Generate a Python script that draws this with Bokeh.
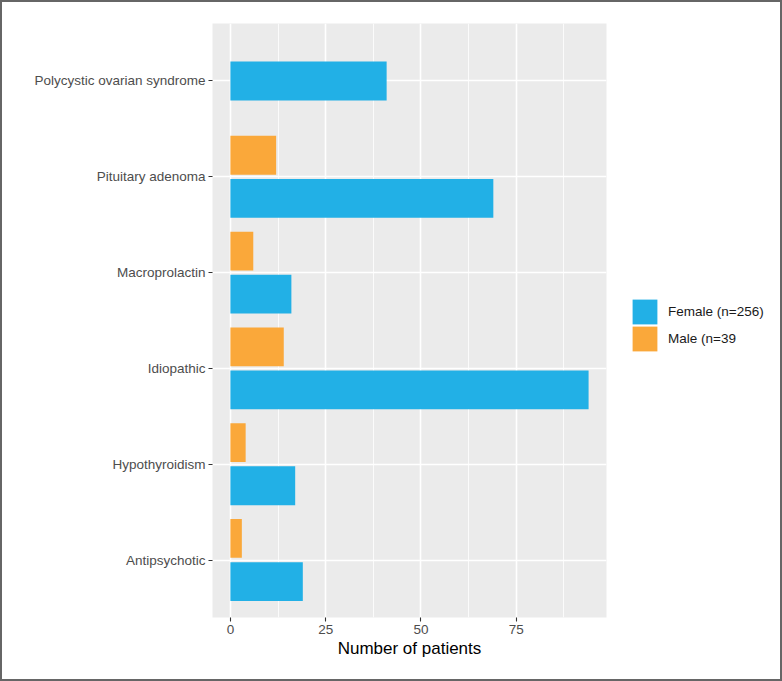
from bokeh.plotting import figure
from bokeh.layouts import row
from bokeh.models import (ColumnDataSource, FactorRange, Range1d, Legend, LegendItem,
                          FixedTicker)
from bokeh.transform import dodge
from bokeh.embed import file_html
from bokeh.resources import INLINE

# ---- data (bottom to top) ----
categories = ["Antipsychotic", "Hypothyroidism", "Idiopathic",
              "Macroprolactin", "Pituitary adenoma", "Polycystic ovarian syndrome"]
female = [19, 17, 94, 16, 69, 41]
male = [3, 4, 14, 6, 12, 0]
female_label = "Female (n=256)"
male_label = "Male (n=39"
x_ticks = [0, 25, 50, 75]

BLUE = "#22B0E6"
ORANGE = "#FAA83A"

# rows with both groups are dodged; single-group rows stay centred
both = [i for i in range(len(categories)) if male[i] > 0]
single = [i for i in range(len(categories)) if male[i] == 0]

src_f_dodged = ColumnDataSource(dict(cat=[categories[i] for i in both],
                                     val=[female[i] for i in both]))
src_f_single = ColumnDataSource(dict(cat=[categories[i] for i in single],
                                     val=[female[i] for i in single]))
src_m = ColumnDataSource(dict(cat=[categories[i] for i in both],
                              val=[male[i] for i in both]))

H = 677
TOP, BOTTOM = 21, 62
p = figure(width=620, height=H, output_backend="svg", toolbar_location=None,
           y_range=FactorRange(factors=categories, range_padding=0.2 / 6,
                               range_padding_units="percent"),
           x_range=Range1d(-4.7, 98.7),
           min_border_left=210, min_border_right=16,
           min_border_top=TOP, min_border_bottom=BOTTOM)

p.background_fill_color = "#EBEBEB"
p.border_fill_color = "white"
p.outline_line_color = None

BAR_H = 0.405
OFF = 0.225
p.hbar(y=dodge("cat", -OFF, range=p.y_range), right="val", left=0, height=BAR_H,
       source=src_f_dodged, fill_color=BLUE, line_color=None)
p.hbar(y="cat", right="val", left=0, height=BAR_H,
       source=src_f_single, fill_color=BLUE, line_color=None)
p.hbar(y=dodge("cat", OFF, range=p.y_range), right="val", left=0, height=BAR_H,
       source=src_m, fill_color=ORANGE, line_color=None)

# grids
p.xgrid.ticker = FixedTicker(ticks=x_ticks,
                             minor_ticks=[t + 12.5 for t in x_ticks])
p.xgrid.grid_line_color = "white"
p.xgrid.grid_line_width = 1.6
p.xgrid.minor_grid_line_color = "white"
p.xgrid.minor_grid_line_width = 0.8
p.ygrid.grid_line_color = "white"
p.ygrid.grid_line_width = 1.6
p.xgrid.level = "underlay"
p.ygrid.level = "underlay"

# axes
for ax in (p.xaxis[0], p.yaxis[0]):
    ax.axis_line_color = None
    ax.major_tick_line_color = "#333333"
    ax.major_tick_line_width = 1.1
    ax.major_tick_out = 4
    ax.major_tick_in = 0
    ax.minor_tick_line_color = None
    ax.major_label_text_color = "#4D4D4D"
    ax.major_label_text_font = "Liberation Sans"
    ax.major_label_text_font_size = "13.5px"
    ax.major_label_standoff = 3

p.xaxis.ticker = FixedTicker(ticks=x_ticks)
p.xaxis.axis_label = "Number of patients"
p.xaxis.axis_label_text_font = "Liberation Sans"
p.xaxis.axis_label_text_font_size = "17px"
p.xaxis.axis_label_text_font_style = "normal"
p.xaxis.axis_label_text_color = "black"
p.xaxis.axis_label_standoff = 2

# ---- legend panel (separate figure to the right of the main panel) ----
lf = figure(width=158, height=H, output_backend="svg", toolbar_location=None,
            x_range=Range1d(-2, -1), y_range=Range1d(-2, -1),
            x_axis_type=None, y_axis_type=None,
            min_border_left=7, min_border_right=0, min_border_top=TOP,
            min_border_bottom=BOTTOM)
lf.outline_line_color = None
lf.grid.visible = False
lf.background_fill_color = "white"
lf.border_fill_color = "white"
# key glyphs reuse the series sources; they fall outside this panel's ranges
lrf = lf.hbar(y="val", right="val", left=0, height=0.5, source=src_f_dodged,
              fill_color=BLUE, line_color=None)
lrm = lf.hbar(y="val", right="val", left=0, height=0.5, source=src_m,
              fill_color=ORANGE, line_color=None)


def make_legend(label, renderer, loc):
    lg = Legend(items=[LegendItem(label=label, renderers=[renderer])],
                location=loc, orientation="vertical")
    lg.glyph_width = 31
    lg.glyph_height = 31
    lg.label_height = 27
    lg.padding = 0
    lg.margin = 0
    lg.label_standoff = 8
    lg.label_text_font = "Liberation Sans"
    lg.label_text_font_size = "13.5px"
    lg.label_text_color = "#1A1A1A"
    lg.background_fill_alpha = 0
    lg.border_line_color = None
    return lg


lf.add_layout(make_legend(female_label, lrf, (0, 290)), "center")
lf.add_layout(make_legend(male_label, lrm, (0, 263)), "center")

layout = row(p, lf, spacing=0)
layout.styles = {"border": "2px solid #666666"}

open("out.html", "w").write(file_html(layout, INLINE))
